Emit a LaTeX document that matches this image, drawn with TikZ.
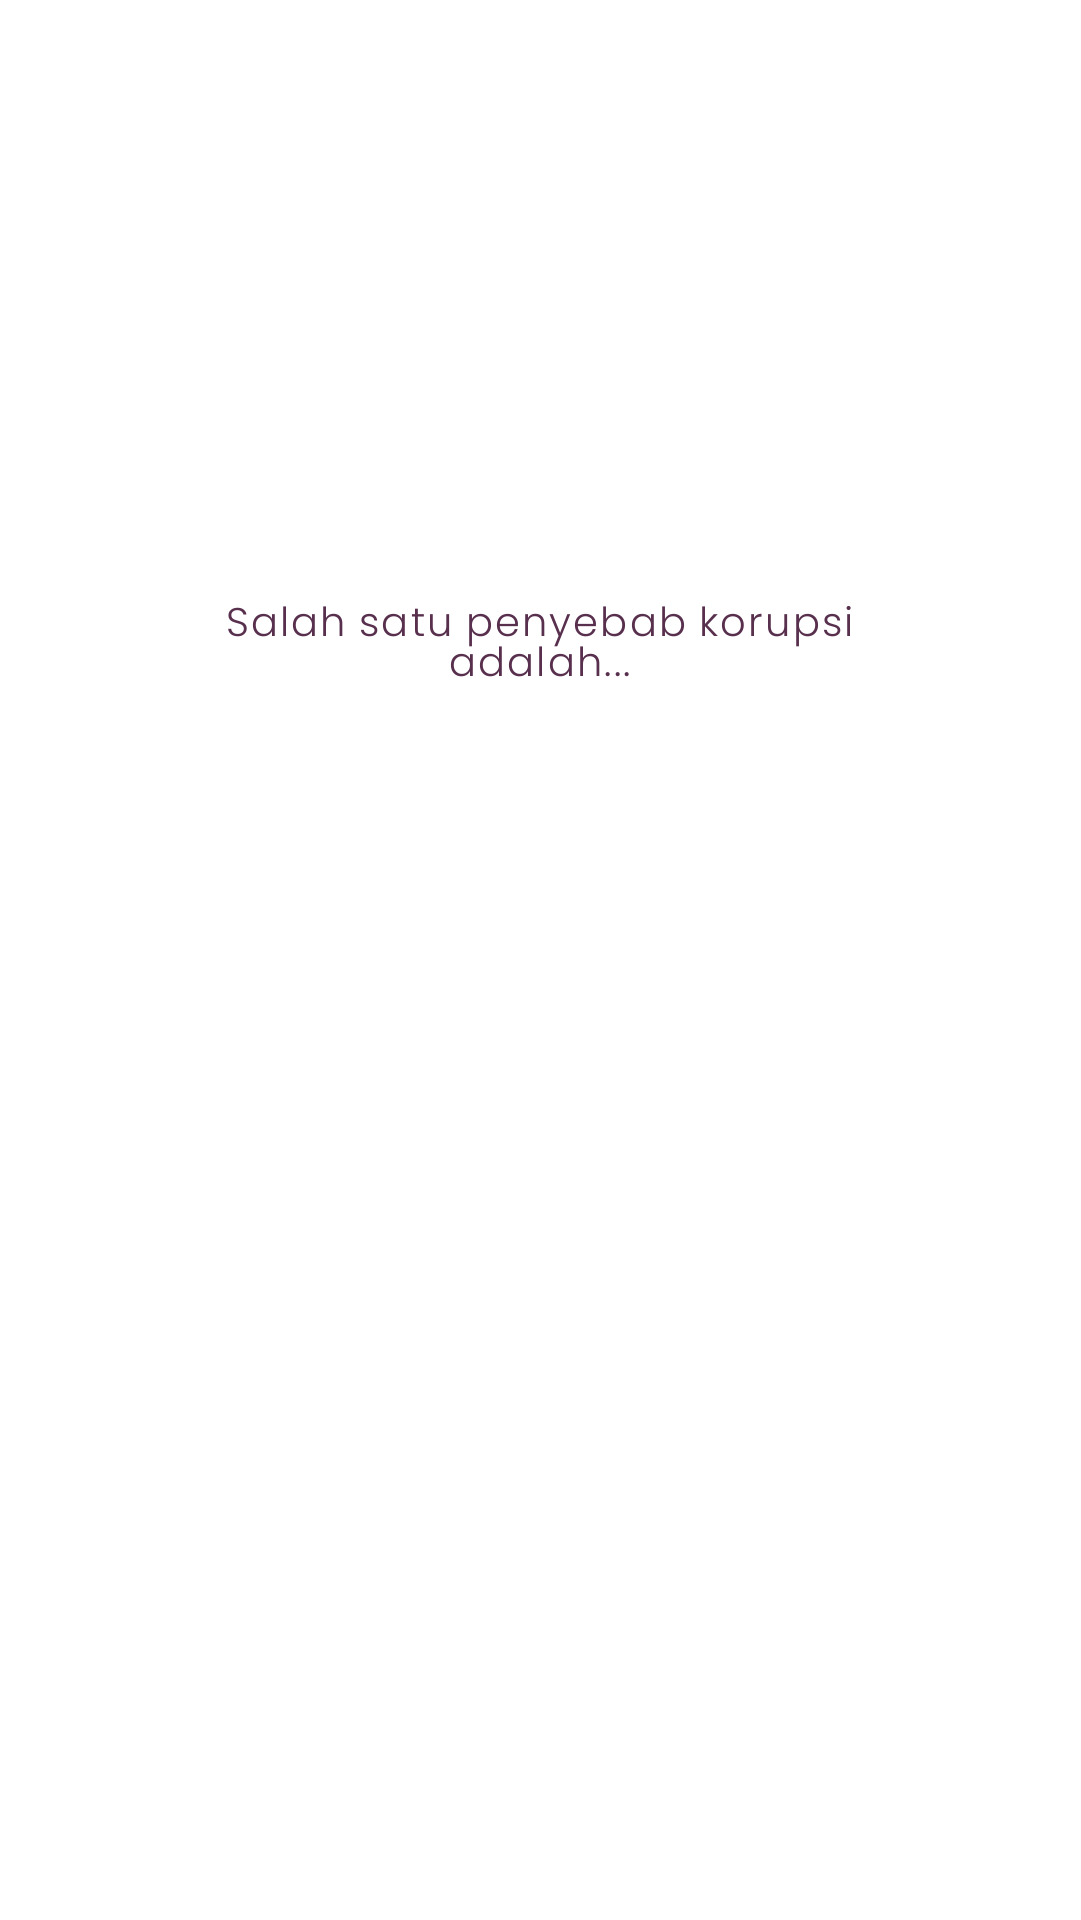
\documentclass[tikz,border=0pt]{standalone}
\usepackage{fontspec}
\setmainfont{Poppins}[UprightFont=* Light, LetterSpace=5.5]

\definecolor{plum}{RGB}{88,48,78}

\begin{document}
\begin{tikzpicture}[x=1pt,y=1pt, qtext/.style={anchor=base, color=plum, font=\fontsize{40}{41}\selectfont}]
	\useasboundingbox[fill=white] (0,0) rectangle (1080,1920);
	\node[qtext] (qline1) at (540,1283) {Salah satu penyebab korupsi};
	\node[qtext] (qline2) at (540,1243) {adalah...};
\end{tikzpicture}
\end{document}
